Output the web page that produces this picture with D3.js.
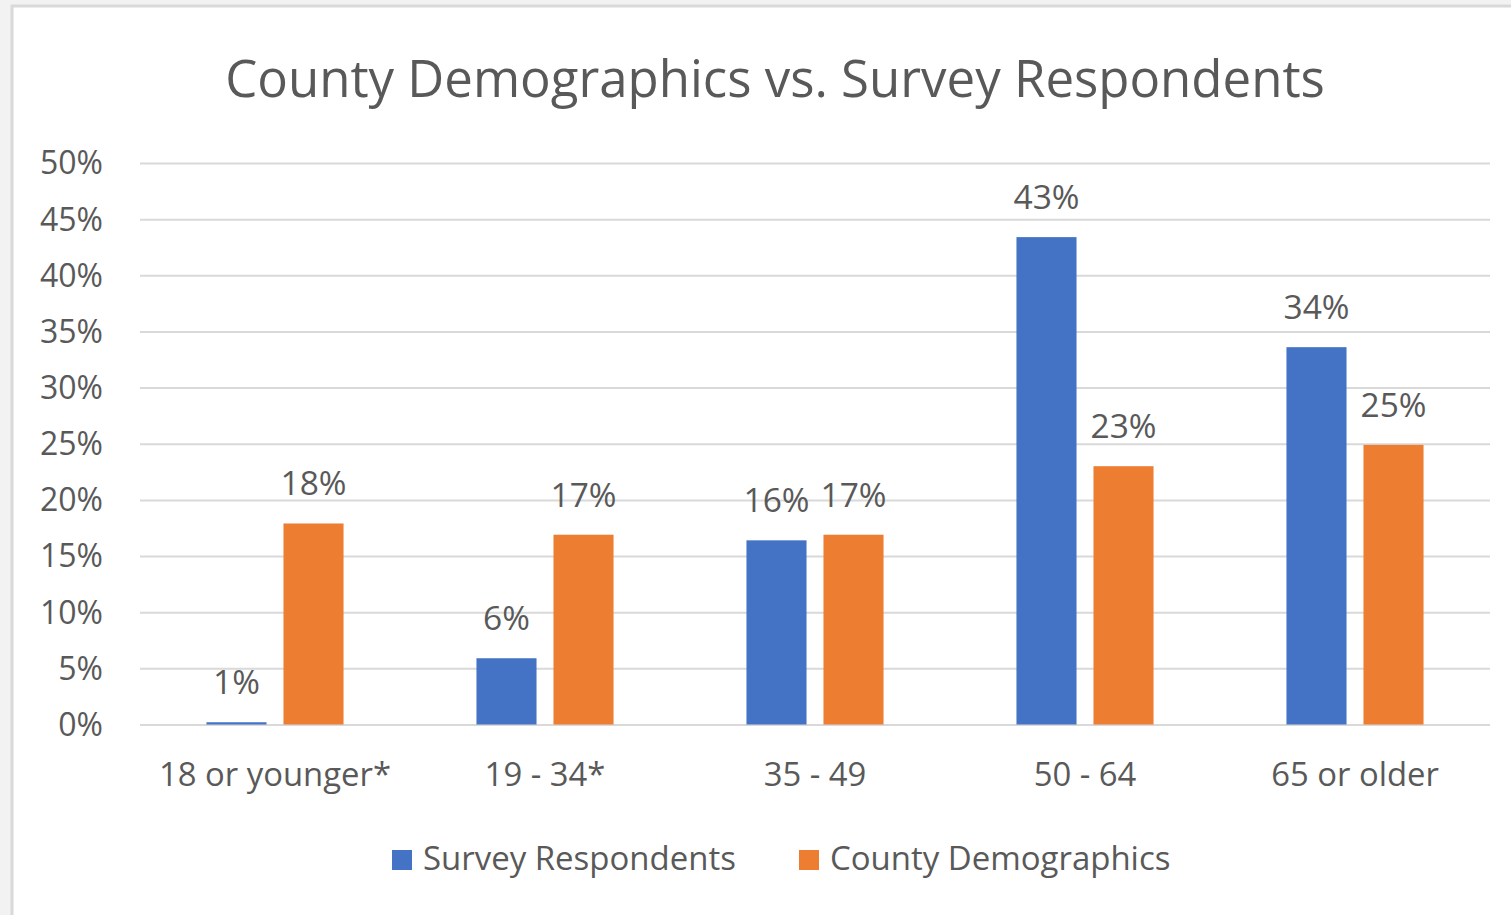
<!DOCTYPE html>
<html>
<head>
<meta charset="utf-8">
<script src="https://cdn.jsdelivr.net/npm/d3@7"></script>
<style>
  html, body { margin: 0; padding: 0; background: #f2f2f2; overflow: hidden; }
  svg { display: block; }
  text { font-family: "Open Sans", "Noto Sans", sans-serif; fill: #595959; }
</style>
</head>
<body>
<svg id="chart" width="1511" height="915"></svg>
<script>
const title = "County Demographics vs. Survey Respondents";
const categories = ["18 or younger*", "19 - 34*", "35 - 49", "50 - 64", "65 or older"];
const seriesNames = ["Survey Respondents", "County Demographics"];
const surveyValues = [0.2, 5.9, 16.4, 43.4, 33.6];
const countyValues = [17.9, 16.9, 16.9, 23.0, 24.9];
const surveyLabels = ["1%", "6%", "16%", "43%", "34%"];
const countyLabels = ["18%", "17%", "17%", "23%", "25%"];
const yTicks = [0, 5, 10, 15, 20, 25, 30, 35, 40, 45, 50];
const colors = ["#4472C4", "#ED7D31"];

const svg = d3.select("#chart");

// chart panel with border
svg.append("rect").attr("x", 12).attr("y", 6).attr("width", 1600).attr("height", 1000)
  .attr("fill", "#ffffff").attr("stroke", "#d9d9d9").attr("stroke-width", 3);

const plot = { left: 140, right: 1490, top: 163, bottom: 724.5 };

const x = d3.scaleBand().domain(categories).range([plot.left, plot.right]).paddingInner(0).paddingOuter(0);
const sub = d3.scaleBand().domain(seriesNames).range([0, x.bandwidth()]).paddingInner(0.22).paddingOuter(0.863);
const y = d3.scaleLinear().domain([0, 50]).range([plot.bottom, plot.top]);

// fit font-size so that a sample string has a given width
function fitSize(sample, targetWidth, base) {
  const t = svg.append("text").attr("font-size", base).text(sample);
  const w = t.node().getComputedTextLength();
  t.remove();
  return base * targetWidth / w;
}
const titleSize = fitSize(title, 1100, 40);
const tickSize = fitSize("50%", 63, 30);
const catSize = fitSize("18 or younger*", 232, 30);
const labelSize = fitSize("43%", 66, 30);
const legendSize = fitSize("Survey Respondents", 313, 30);

// gridlines via axis
const yAxis = d3.axisLeft(y).tickValues(yTicks).tickSize(-(plot.right - plot.left)).tickFormat(d => d + "%").tickPadding(37);
const gy = svg.append("g").attr("transform", `translate(${plot.left},0)`).call(yAxis);
gy.select(".domain").remove();
gy.selectAll(".tick line").attr("stroke", "#d9d9d9").attr("stroke-width", 2);
gy.selectAll(".tick text").attr("font-size", tickSize).attr("fill", "#595959")
  .attr("font-family", "'Open Sans', sans-serif").attr("dy", "0.34em");

// x axis labels
const xAxis = d3.axisBottom(x).tickSize(0).tickPadding(0);
const gx = svg.append("g").attr("transform", `translate(0,${plot.bottom})`).call(xAxis);
gx.select(".domain").remove();
gx.selectAll(".tick text").attr("font-size", catSize).attr("fill", "#595959")
  .attr("font-family", "'Open Sans', sans-serif").attr("y", 61.5).attr("dy", 0);

// bars
const rows = categories.map((c, i) => ({ cat: c, vals: [
  { s: seriesNames[0], v: surveyValues[i], l: surveyLabels[i], c: colors[0] },
  { s: seriesNames[1], v: countyValues[i], l: countyLabels[i], c: colors[1] }
]}));
const groups = svg.append("g").selectAll("g").data(rows).join("g")
  .attr("transform", d => `translate(${x(d.cat)},0)`);
groups.selectAll("rect").data(d => d.vals).join("rect")
  .attr("x", d => sub(d.s)).attr("width", sub.bandwidth())
  .attr("y", d => y(d.v)).attr("height", d => y(0) - y(d.v))
  .attr("fill", d => d.c);
groups.selectAll("text").data(d => d.vals).join("text")
  .attr("x", d => sub(d.s) + sub.bandwidth() / 2)
  .attr("y", d => y(d.v) - 28)
  .attr("text-anchor", "middle").attr("font-size", labelSize)
  .text(d => d.l);

// title
svg.append("text").attr("x", 775).attr("y", 97).attr("text-anchor", "middle")
  .attr("font-size", titleSize).text(title);

// legend
const legendX = [392, 799];
const leg = svg.append("g").selectAll("g").data(seriesNames).join("g")
  .attr("transform", (d, i) => `translate(${legendX[i]},850)`);
leg.append("rect").attr("width", 20).attr("height", 20).attr("fill", (d, i) => colors[i]);
leg.append("text").attr("x", 31).attr("y", 20).attr("font-size", legendSize).text(d => d);
</script>
</body>
</html>
